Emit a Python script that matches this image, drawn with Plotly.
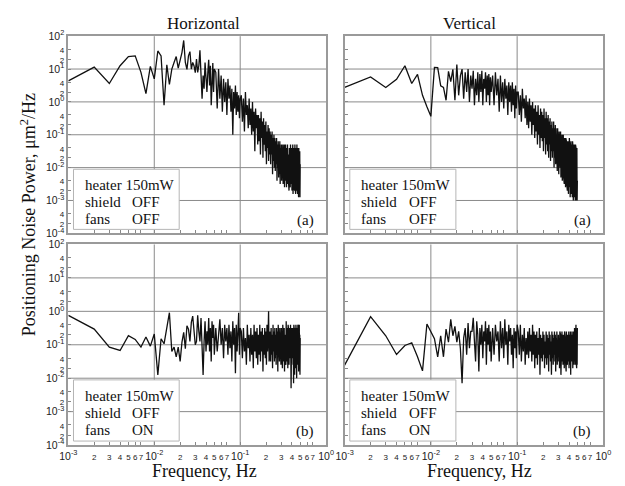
import plotly.graph_objects as go

# Frequency bins (mHz) of the power spectra
freq_mhz = list(range(1, 51)) + list(range(52, 101, 2)) + list(range(103, 500, 3))

# log10 of noise power (um^2/Hz)
# --- Horizontal, fans OFF (a)
H_a_low = [0.64, 1.06, 0.56, 1.10, 1.38, 1.40, 0.90, 0.25, 1.08, 0.70,
           1.55, 1.40, -0.10, 1.13, 0.53, 1.00, 1.20, 1.38, 1.03, 1.30,
           1.50, 1.87, 1.20, 0.99, 1.40, 1.53, 1.00, 1.20, 1.10, 0.89,
           1.30, 0.90, 1.10, 1.57, 0.60, 0.10, 0.80, 0.40, 1.20, 0.70,
           0.30, 0.90, 1.28, 0.50, 1.10, -0.10, 0.80, 1.18, 0.30, 1.00]
H_a_mid = [0.9, -0.2, 1.0, 0.1, 0.8, -0.3, 0.7, 0.0, 0.6, -0.4,
           0.7, 0.1, 0.5, -0.3, 0.4, -1.0, 0.3, -0.2, 0.5, -0.4,
           0.3, -0.3, 0.2, -0.5, 0.1]
H_a_high = [0.2, -0.6, 0.1, -0.9, 0.3, -0.4, -0.1, -0.8, 0.1, -0.7,
            -0.2, -1.0, 0.0, -0.9, -0.3, -1.5, -0.2, -0.8, -0.4, -1.3,
            -0.4, -1.2, -0.5, -1.6, -0.3, -1.1, -0.6, -1.7, -0.5, -1.3,
            -0.7, -1.5, -0.6, -1.9, -0.9, -1.4, -0.7, -1.8, -0.8, -1.6,
            -0.9, -1.9, -1.0, -1.6, -0.9, -2.2, -1.1, -1.8, -1.0, -2.0,
            -1.1, -2.1, -1.2, -1.9, -1.1, -2.4, -1.3, -2.0, -1.2, -2.3,
            -1.3, -2.2, -1.2, -2.5, -1.4, -2.1, -1.3, -2.4, -1.5, -2.2,
            -1.3, -2.5, -1.4, -2.2, -1.3, -2.6, -1.5, -2.3, -1.3, -2.4,
            -1.4, -2.6, -1.5, -2.3, -1.3, -2.5, -1.6, -2.4, -1.4, -2.7,
            -1.4, -2.4, -1.6, -2.6, -1.3, -2.5, -1.5, -2.3, -1.4, -2.7,
            -1.5, -2.5, -1.3, -2.8, -1.6, -2.4, -1.4, -2.6, -1.5, -2.7,
            -1.3, -2.6, -1.6, -2.8, -1.4, -2.5, -1.5, -2.7, -1.3, -2.6,
            -1.6, -2.8, -1.4, -2.6, -1.5, -2.9, -1.4, -2.7, -1.6, -2.8,
            -1.5, -2.9, -1.9]

# --- Vertical, fans OFF (a)
V_a_low = [0.44, 0.76, 0.44, 0.69, 1.10, 0.56, 0.84, 0.20, -0.15, -0.44,
           1.05, 1.04, 0.49, 0.44, 0.05, 0.93, 0.62, 0.99, 0.05, 1.14,
           0.20, 0.80, 1.00, 0.10, 0.90, 0.30, 1.00, 0.00, 0.80, 0.40,
           0.95, -0.10, 0.70, 0.20, 0.90, 0.00, 0.85, 0.30, 0.95, -0.10,
           0.70, 0.40, 0.90, 0.00, 0.80, 0.20, 0.85, -0.10, 0.75, 0.30]
V_a_mid = [0.8, -0.1, 0.9, 0.2, 0.7, -0.3, 0.8, 0.0, 0.6, -0.2,
           0.7, 0.1, 0.5, -0.4, 0.6, 0.0, 0.5, -0.3, 0.6, -0.1,
           0.4, -0.5, 0.5, -0.2, 0.3]
V_a_high = [0.3, -0.4, 0.2, -0.6, 0.4, -0.2, 0.1, -0.5, 0.2, -0.7,
            0.0, -0.8, 0.1, -0.6, -0.1, -1.0, 0.0, -0.7, -0.2, -1.1,
            -0.1, -0.9, -0.3, -1.3, -0.1, -1.0, -0.4, -1.4, -0.2, -1.1,
            -0.3, -1.2, -0.4, -1.5, -0.2, -1.1, -0.5, -1.6, -0.3, -1.3,
            -0.5, -1.5, -0.4, -1.7, -0.6, -1.3, -0.5, -1.8, -0.7, -1.5,
            -0.6, -1.7, -0.8, -1.5, -0.6, -2.0, -0.8, -1.7, -0.7, -1.9,
            -0.8, -1.8, -0.9, -2.1, -0.8, -1.7, -1.0, -2.2, -0.9, -1.9,
            -1.0, -2.0, -0.9, -2.3, -1.1, -1.9, -1.0, -2.4, -1.2, -2.1,
            -1.0, -2.3, -1.2, -2.5, -1.1, -2.2, -1.3, -2.6, -1.1, -2.4,
            -1.2, -2.5, -1.3, -2.7, -1.2, -2.4, -1.4, -2.8, -1.2, -2.6,
            -1.1, -2.6, -1.4, -2.9, -1.3, -2.5, -1.2, -2.8, -1.4, -2.7,
            -1.3, -2.9, -1.2, -2.6, -1.4, -3.0, -1.3, -2.7, -1.5, -2.9,
            -1.3, -2.8, -1.5, -3.0, -1.3, -2.7, -1.4, -3.0, -1.5, -2.8,
            -1.4, -3.0, -2.4]

# --- Horizontal, fans ON (b)
H_b_low = [-0.12, -0.53, -1.07, -1.17, -0.73, -0.84, -1.07, -0.77, -1.04, -0.68,
           -1.90, -0.82, -0.97, -0.53, -0.04, -1.20, -1.07, -1.36, -1.07, -1.50,
           -0.92, -0.63, -1.12, -0.43, -0.53, -0.90, -0.33, -0.14, -0.70, -1.00,
           -0.90, -0.12, -0.60, -0.90, -0.20, -1.40, -1.90, -0.90, -0.30, -1.20,
           -0.60, -1.00, -0.20, -1.20, -0.50, -1.50, -0.30, -0.80, -0.40, -1.30]
H_b_mid = [-0.5, -1.2, -0.6, -0.24, -1.0, -0.5, -1.4, -0.4, -0.9, -0.5,
           -1.3, -0.4, -1.1, -0.6, -1.5, -0.3, -1.0, -0.5, -1.85, -0.4,
           -1.2, -0.6, -0.04, -1.3, -0.5]
H_b_high = [-0.6, -1.4, -0.5, -1.2, -0.8, -1.6, -0.4, -1.1, -0.7, -1.5,
            -0.5, -1.3, -0.7, -1.7, -0.4, -1.2, -0.6, -1.4, -0.5, -1.6,
            -0.7, -1.3, -0.4, -1.5, -0.6, -1.2, -0.5, -1.8, -0.7, -1.3,
            -0.5, -1.4, -0.6, -1.6, -0.4, -1.2, -0.7, 0.0, -1.5, -1.3,
            -0.6, -1.5, -0.5, -1.3, -0.7, -1.7, -0.4, -1.2, -0.6, -1.5,
            -0.5, -1.4, -0.7, -1.6, -0.5, -1.3, -0.6, -1.8, -0.4, -1.4,
            -0.6, -1.5, -0.5, -1.3, -0.7, -1.6, -0.5, -1.4, -0.6, -1.7,
            -0.4, -1.3, -0.6, -1.5, -0.5, -1.8, -0.7, -1.4, -0.5, -1.6,
            -0.3, -1.5, -0.6, -1.3, -0.5, -1.7, -0.4, -1.4, -0.6, -1.6,
            -0.5, -1.5, -0.6, -1.4, -0.4, -1.3, -2.3, -1.6, -0.5, -1.4,
            -0.6, -1.4, -0.5, -1.6, -0.7, -2.15, -0.4, -1.3, -0.6, -1.9,
            -0.5, -1.5, -0.6, -1.7, -0.4, -1.4, -0.7, -2.0, -0.5, -1.5,
            -0.6, -1.6, -0.4, -1.3, -0.5, -1.8, -0.6, -1.5, -0.4, -1.6,
            -0.7, -1.9, -0.8]

# --- Vertical, fans ON (b)
V_b_low = [-1.61, -0.16, -0.73, -1.29, -1.02, -0.94, -1.36, -1.78, -0.38, -0.63,
           -0.82, -1.36, -0.73, -1.36, -0.53, -0.92, -0.24, -0.73, -0.45, -0.92,
           -0.60, -1.12, -2.15, -0.80, -0.50, -1.30, -0.35, -1.10, -0.60, -0.60,
           -0.19, -0.90, -1.50, -0.30, -0.70, -1.80, -0.50, -1.00, -0.40, -1.40,
           -0.60, -0.90, -0.30, -1.60, -0.50, -1.00, -0.40, -1.20, -0.60, -1.50]
V_b_mid = [-0.5, -1.3, -0.4, -0.9, -0.6, -1.5, -0.3, -1.1, -0.5, -1.4,
           -0.24, -1.0, -0.6, -1.6, -0.4, -0.9, -0.5, -1.3, -0.7, -1.7,
           -0.5, -1.1, -0.6, -1.4, -0.4]
V_b_high = [-0.6, -1.3, -0.4, -1.5, -0.7, -1.2, -0.5, -1.6, -0.8, -1.3,
            -0.6, -1.4, -0.5, -1.2, -0.7, -1.5, -0.4, -1.3, -0.6, -1.7,
            -0.7, -1.4, -0.6, -1.6, -0.8, -1.3, -0.5, -1.9, -0.7, -1.4,
            -0.8, -1.5, -0.6, -1.3, -0.7, -1.7, -0.9, -1.4, -0.6, -1.6,
            -0.7, -1.4, -0.8, -1.8, -0.6, -1.3, -0.7, -1.5, -0.9, -1.9,
            -0.6, -1.4, -0.7, -1.6, -0.8, -1.3, -0.6, -1.5, -0.7, -1.8,
            -0.8, -1.4, -0.6, -1.6, -0.9, -1.3, -0.7, -1.5, -0.8, -1.7,
            -0.6, -1.4, -0.7, -1.9, -0.8, -1.3, -0.6, -1.5, -0.7, -1.6,
            -0.8, -1.4, -0.7, -1.7, -0.6, -1.3, -0.8, -1.5, -0.7, -1.8,
            -0.6, -1.4, -0.8, -1.6, -0.7, -1.3, -0.9, -1.5, -0.6, -1.7,
            -0.7, -1.4, -0.8, -1.6, -0.6, -1.9, -0.7, -1.4, -0.8, -1.5,
            -0.6, -1.3, -0.7, -1.7, -0.8, -1.4, -0.6, -1.6, -0.7, -1.5,
            -0.5, -1.4, -0.7, -1.6, -0.8, -1.3, -0.4, -1.5, -0.7, -1.7,
            -0.6, -1.6, -0.5]

col_titles = ["Horizontal", "Vertical"]
y_title = "Positioning Noise Power, μm<sup>2</sup>/Hz"
x_title = "Frequency, Hz"
panel_tags = ["(a)", "(a)", "(b)", "(b)"]
fans_state = ["OFF", "OFF", "ON", "ON"]

freq_hz = [f / 1000.0 for f in freq_mhz]
series = [H_a_low + H_a_mid + H_a_high, V_a_low + V_a_mid + V_a_high,
          H_b_low + H_b_mid + H_b_high, V_b_low + V_b_mid + V_b_high]

SERIF = "Liberation Serif, Times New Roman, serif"
SANS = "Liberation Sans, Arial, sans-serif"
GRID = "#8a8a8a"
BORDER = "#9a9a9a"


def small(t):
    return '<span style="font-size:8px">%s</span>' % t


# tick positions / labels
x_tv, x_tt = [], []
for e in [-3, -2, -1]:
    x_tv.append(10.0 ** e); x_tt.append("10<sup>%d</sup>" % e)
    for m in [2, 3, 4, 5, 6, 7]:
        x_tv.append(m * 10.0 ** e); x_tt.append(small(m))
x_tv.append(1.0); x_tt.append("10<sup>0</sup>")

y_tv, y_tt = [], []
for e in range(-4, 2):
    y_tv.append(10.0 ** e); y_tt.append("10<sup>%d</sup>" % e)
    for m in [2, 4]:
        y_tv.append(m * 10.0 ** e); y_tt.append(small(m))
y_tv.append(100.0); y_tt.append("10<sup>2</sup>")

XD = [[0.0976, 0.5216], [0.552, 0.9776]]
YD = [[0.5226, 0.9403], [0.074, 0.499]]

fig = go.Figure()
shapes, annotations = [], []
layout = {}

for i in range(4):
    col, row = i % 2, i // 2
    sfx = "" if i == 0 else str(i + 1)
    xa, ya = "x" + sfx, "y" + sfx
    fig.add_trace(go.Scatter(
        x=freq_hz, y=[10 ** v for v in series[i]], mode="lines",
        line=dict(color="#111111", width=1.3), xaxis=xa, yaxis=ya,
        showlegend=False, hoverinfo="skip"))
    layout["xaxis" + sfx] = dict(
        type="log", range=[-3, 0], domain=XD[col], anchor=ya,
        tickmode="array", tickvals=x_tv, ticktext=x_tt, tickangle=0,
        showticklabels=(row == 1), ticks="inside", ticklen=3,
        tickcolor="#888", tickfont=dict(family=SANS, size=10.5, color="#222"),
        showgrid=False, zeroline=False, showline=True, mirror=True,
        linecolor=BORDER, linewidth=2)
    layout["yaxis" + sfx] = dict(
        type="log", range=[-4, 2], domain=YD[row], anchor=xa,
        tickmode="array", tickvals=y_tv, ticktext=y_tt, tickangle=0,
        showticklabels=(col == 0), ticks="inside", ticklen=3,
        tickcolor="#888", tickfont=dict(family=SANS, size=10.5, color="#222"),
        showgrid=False, zeroline=False, showline=True, mirror=True,
        linecolor=BORDER, linewidth=2)
    xr, yr = xa + " domain", ya + " domain"
    # decade gridlines
    for k in [1, 2]:
        shapes.append(dict(type="line", xref=xr, yref=yr, x0=k / 3, x1=k / 3,
                           y0=0, y1=1, line=dict(color=GRID, width=1), layer="below"))
    for k in range(1, 6):
        shapes.append(dict(type="line", xref=xr, yref=yr, x0=0, x1=1,
                           y0=k / 6, y1=k / 6, line=dict(color=GRID, width=1), layer="below"))
    # info box
    shapes.append(dict(type="rect", xref=xr, yref=yr, x0=0.02, x1=0.43,
                       y0=0.02, y1=0.325, fillcolor="white",
                       line=dict(color="#b5b5b5", width=1), layer="below"))
    rows = [("heater 150mW", None, 0.245), ("shield", "OFF", 0.16),
            ("fans", fans_state[i], 0.075)]
    for lab, val, yy in rows:
        annotations.append(dict(xref=xr, yref=yr, x=0.055, y=yy, text=lab,
                                showarrow=False, xanchor="left", yanchor="middle",
                                font=dict(family=SERIF, size=15, color="#111")))
        if val:
            annotations.append(dict(xref=xr, yref=yr, x=0.24, y=yy, text=val,
                                    showarrow=False, xanchor="left", yanchor="middle",
                                    font=dict(family=SERIF, size=15, color="#111")))
    annotations.append(dict(xref=xr, yref=yr, x=0.96, y=0.067, text=panel_tags[i],
                            showarrow=False, xanchor="right", yanchor="middle",
                            font=dict(family=SERIF, size=15, color="#111")))

# column titles and axis titles
for col, (xc, xf) in enumerate([(0.32, 0.3216), (0.758, 0.774)]):
    annotations.append(dict(xref="paper", yref="paper", x=xc, y=0.967,
                            text=col_titles[col], showarrow=False,
                            xanchor="center", yanchor="middle",
                            font=dict(family=SERIF, size=17, color="#111")))
    annotations.append(dict(xref="paper", yref="paper", x=xf, y=0.019,
                            text=x_title, showarrow=False,
                            xanchor="center", yanchor="middle",
                            font=dict(family=SERIF, size=18, color="#111")))
annotations.append(dict(xref="paper", yref="paper", x=0.032, y=0.562,
                        text=y_title, textangle=-90, showarrow=False,
                        xanchor="center", yanchor="middle",
                        font=dict(family=SERIF, size=18, color="#111")))

fig.update_layout(width=625, height=486, autosize=False,
                  margin=dict(l=0, r=0, t=0, b=0),
                  paper_bgcolor="white", plot_bgcolor="white",
                  shapes=shapes, annotations=annotations, **layout)

fig.write_html("out.html")
